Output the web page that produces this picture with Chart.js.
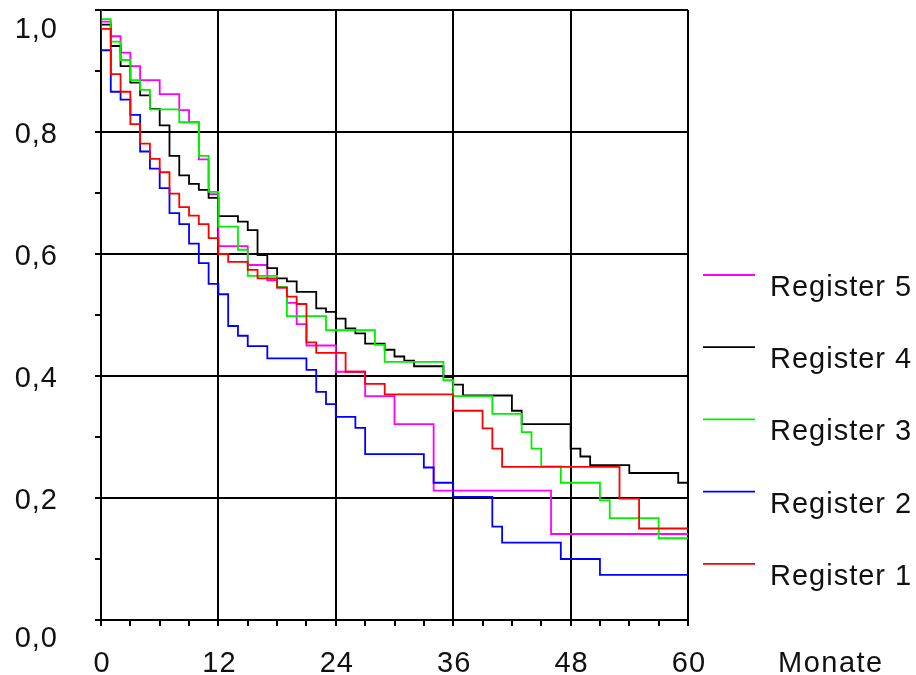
<!DOCTYPE html>
<html lang="de">
<head>
<meta charset="UTF-8">
<title>Überleben nach Register</title>
<script src="https://cdn.jsdelivr.net/npm/chart.js"></script>
<style>
  body { margin: 0; background: #fff; }
</style>
</head>
<body>
<canvas id="survChart" width="916" height="675"></canvas>
<script>
// Stufenkurven: Monat ab dem der Wert gilt, und Anteil
const reg1Months = [0, 0, 1, 2, 3, 4, 5, 6, 7, 8, 9, 10, 11, 12, 13, 15, 16, 18, 19, 20, 21, 22, 25, 27, 29, 36, 39, 40, 41, 53, 55, 60];
const reg1Surv = [1.0, 0.969, 0.895, 0.866, 0.813, 0.781, 0.756, 0.734, 0.699, 0.677, 0.663, 0.649, 0.626, 0.600, 0.587, 0.574, 0.560, 0.545, 0.530, 0.518, 0.455, 0.438, 0.407, 0.387, 0.370, 0.343, 0.314, 0.281, 0.251, 0.199, 0.150, 0.150];

const reg2Months = [0, 0, 1, 2, 3, 4, 5, 6, 7, 8, 9, 10, 11, 12, 13, 14, 15, 17, 21, 22, 23, 24, 26, 27, 33, 34, 36, 40, 41, 47, 51, 60];
const reg2Surv = [1.0, 0.934, 0.866, 0.853, 0.828, 0.768, 0.740, 0.708, 0.667, 0.649, 0.617, 0.585, 0.551, 0.534, 0.482, 0.466, 0.449, 0.429, 0.410, 0.374, 0.354, 0.333, 0.315, 0.272, 0.250, 0.225, 0.202, 0.153, 0.127, 0.100, 0.074, 0.074];

const reg3Months = [0, 0, 1, 2, 3, 4, 5, 8, 10, 11, 12, 14, 15, 18, 19, 23, 28, 29, 35, 36, 40, 43, 44, 45, 47, 51, 52, 57, 60];
const reg3Surv = [1.0, 0.985, 0.948, 0.918, 0.885, 0.869, 0.837, 0.816, 0.761, 0.702, 0.645, 0.607, 0.564, 0.546, 0.498, 0.475, 0.451, 0.423, 0.393, 0.367, 0.338, 0.308, 0.281, 0.252, 0.225, 0.196, 0.167, 0.134, 0.134];

const reg4Months = [0, 0, 1, 2, 3, 4, 5, 6, 7, 8, 9, 10, 11, 12, 14, 15, 16, 17, 18, 19, 20, 22, 23, 24, 25, 26, 27, 29, 30, 31, 32, 35, 36, 37, 42, 43, 48, 49, 50, 54, 59, 60];
const reg4Surv = [1.0, 0.976, 0.941, 0.908, 0.881, 0.860, 0.838, 0.811, 0.761, 0.729, 0.715, 0.705, 0.692, 0.662, 0.653, 0.639, 0.598, 0.577, 0.560, 0.555, 0.538, 0.511, 0.505, 0.494, 0.478, 0.470, 0.453, 0.443, 0.432, 0.425, 0.416, 0.398, 0.386, 0.368, 0.343, 0.321, 0.281, 0.268, 0.254, 0.241, 0.225, 0.225];

const reg5Months = [0, 0, 1, 2, 3, 4, 6, 8, 9, 10, 11, 12, 15, 17, 18, 19, 20, 21, 24, 27, 30, 34, 46, 60];
const reg5Surv = [1.0, 0.981, 0.957, 0.930, 0.908, 0.885, 0.862, 0.836, 0.816, 0.755, 0.698, 0.613, 0.582, 0.557, 0.545, 0.520, 0.485, 0.450, 0.407, 0.367, 0.321, 0.212, 0.141, 0.141];

const yTickValues = [0, 0.2, 0.4, 0.6, 0.8, 1.0];
const yTickLabels = ['0,0', '0,2', '0,4', '0,6', '0,8', '1,0'];
const xTickValues = [0, 12, 24, 36, 48, 60];
const xTickLabels = ['0', '12', '24', '36', '48', '60'];
const xTitle = 'Monate';
const legendOrder = ['Register 5', 'Register 4', 'Register 3', 'Register 2', 'Register 1'];

function toPoints(months, surv) {
    return months.map((m, i) => ({ x: m, y: surv[i] }));
}

function series(label, months, surv, color) {
    return {
        label: label,
        data: toPoints(months, surv),
        borderColor: color,
        borderWidth: 1.8,
        stepped: 'before',
        pointRadius: 0,
        fill: false
    };
}

// Beschriftung und Legende selbst zeichnen, damit sie wie im Original sitzen
const textPlugin = {
    id: 'texts',
    afterDraw(chart) {
        const ctx = chart.ctx;
        const xs = chart.scales.x;
        const ys = chart.scales.y;
        ctx.save();
        ctx.font = '29px "Liberation Sans", Arial, sans-serif';
        ctx.fillStyle = '#111';
        ctx.letterSpacing = '1px';
        ctx.textBaseline = 'alphabetic';

        ctx.textAlign = 'right';
        yTickValues.forEach((v, i) => {
            let py = ys.getPixelForValue(v);
            if (v === 1) py += 17;
            if (v === 0) py += 16;
            ctx.fillText(yTickLabels[i], 58, py + 10.5);
        });

        ctx.textAlign = 'center';
        xTickValues.forEach((v, i) => {
            ctx.fillText(xTickLabels[i], xs.getPixelForValue(v) + 1, 672);
        });
        ctx.textAlign = 'left';
        ctx.letterSpacing = '1.5px';
        ctx.fillText(xTitle, 778, 672);
        ctx.letterSpacing = '1px';

        legendOrder.forEach((name, i) => {
            const ds = chart.data.datasets.find(d => d.label === name);
            const top = 275 + 72.2 * i;
            ctx.strokeStyle = ds.borderColor;
            ctx.lineWidth = 1.8;
            ctx.beginPath();
            ctx.moveTo(703, top);
            ctx.lineTo(755, top);
            ctx.stroke();
            ctx.fillText(name, 770, top + 21);
        });
        ctx.restore();
    }
};

const ctx = document.getElementById('survChart').getContext('2d');
new Chart(ctx, {
    type: 'line',
    data: {
        // Register 1 zuerst -> wird zuoberst gezeichnet
        datasets: [
            series('Register 1', reg1Months, reg1Surv, '#ff0000'),
            series('Register 2', reg2Months, reg2Surv, '#0000ff'),
            series('Register 3', reg3Months, reg3Surv, '#00f000'),
            series('Register 4', reg4Months, reg4Surv, '#000000'),
            series('Register 5', reg5Months, reg5Surv, '#ff00ff')
        ]
    },
    options: {
        responsive: false,
        animation: false,
        layout: { padding: { left: 0, right: 228, top: 10, bottom: 0 } },
        plugins: {
            legend: { display: false },
            tooltip: { enabled: false }
        },
        scales: {
            x: {
                type: 'linear',
                min: 0,
                max: 60,
                afterFit(scale) { scale.height = 55; },
                ticks: { display: false, stepSize: 3 },
                grid: {
                    color: c => (c.tick && c.tick.value % 12 === 0) ? '#000' : 'rgba(0,0,0,0)',
                    tickColor: '#000',
                    lineWidth: 2,
                    tickLength: 6
                },
                border: { color: '#000', width: 2 }
            },
            y: {
                type: 'linear',
                min: 0,
                max: 1,
                afterFit(scale) { scale.width = 101; },
                ticks: { display: false, stepSize: 0.1 },
                grid: {
                    color: c => (c.tick && Math.round(c.tick.value * 10) % 2 === 0) ? '#000' : 'rgba(0,0,0,0)',
                    tickColor: '#000',
                    lineWidth: 2,
                    tickLength: 6
                },
                border: { color: '#000', width: 2 }
            }
        }
    },
    plugins: [textPlugin]
});
</script>
</body>
</html>
